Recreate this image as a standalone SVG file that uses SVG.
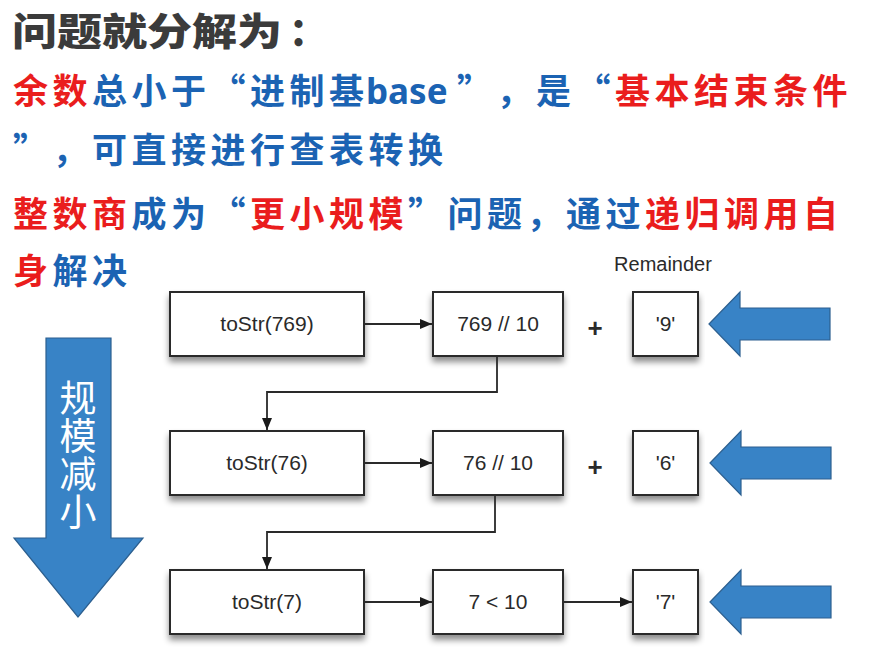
<svg xmlns="http://www.w3.org/2000/svg" width="872" height="653" viewBox="0 0 872 653">
<style>
.cjk{font-family:"Noto Sans CJK SC","Noto Sans",sans-serif}
.title{font-size:38px;font-weight:900;fill:#3b3b3b}
.body{font-size:35px;font-weight:700}
.r{fill:#ea1d1d}
.b{fill:#1b63b3}
.box{fill:#fff;stroke:#2a2a2a;stroke-width:2}
.lbl{font-family:"Liberation Sans",Arial,sans-serif;font-size:21px;fill:#2a2a2a;text-anchor:middle}
.conn{fill:none;stroke:#2a2a2a;stroke-width:1.8}
.blue{fill:#3883c6;stroke:#2c5f8f;stroke-width:1.2}
</style>
<defs>
<filter id="sh" x="-10%" y="-20%" width="120%" height="160%">
<feDropShadow dx="0" dy="5" stdDeviation="3" flood-color="#000" flood-opacity="0.45"/>
</filter>
<marker id="ah" viewBox="0 0 12 10" refX="12" refY="5" markerWidth="12" markerHeight="10" markerUnits="userSpaceOnUse" orient="auto">
<path d="M0,0 L12,5 L0,10 Z" fill="#1a1a1a"/>
</marker>
<path id="larrow" d="M0,0 L31,-32 L31,-16 L121,-16 L121,16 L31,16 L31,32 Z"/>
</defs>

<g id="title">
<text class="cjk title" x="12" y="45" textLength="270" lengthAdjust="spacingAndGlyphs">问题就分解为</text>
<text class="cjk title" x="289" y="45">：</text>
</g>

<g id="text-lines" class="cjk body">
<text y="104"><tspan class="r" x="13 52.5">余数</tspan><tspan class="b" x="92 131.5 171 210.5 250 289.5 329">总小于“进制基</tspan><tspan class="b" x="366" style="font-family:'Noto Sans',sans-serif;font-weight:700">base</tspan><tspan class="b" x="457 496.5 536 575.5">”，是“</tspan><tspan class="r" x="615 654.5 694 733.5 773 812.5">基本结束条件</tspan></text>
<text y="163"><tspan class="b" x="13 52.5 92 131.5 171 210.5 250 289.5 329 368.5 408">”，可直接进行查表转换</tspan></text>
<text y="227"><tspan class="r" x="13 52.5 92">整数商</tspan><tspan class="b" x="131.5 171 210.5">成为“</tspan><tspan class="r" x="250 289.5 329 368.5">更小规模</tspan><tspan class="b" x="408 447.5 487 526.5 566 605.5">”问题，通过</tspan><tspan class="r" x="645 684.5 724 763.5 803">递归调用自</tspan></text>
<text y="284"><tspan class="r" x="13">身</tspan><tspan class="b" x="52.5 92">解决</tspan></text>
</g>

<g id="scale-arrow">
<path class="blue" d="M46,338 L111,338 L111,538 L143,538 L78,617 L14,538 L46,538 Z"/>
<text class="cjk" x="78" y="379" style="font-size:37px;fill:#fff;writing-mode:vertical-rl;letter-spacing:1px">规模减小</text>
</g>

<g id="remainder-label">
<text class="lbl" x="663" y="271" style="font-size:20px">Remainder</text>
</g>

<g id="n-tostr769"><rect class="box" filter="url(#sh)" x="170" y="292" width="194" height="64"/><text class="lbl" x="267" y="331">toStr(769)</text></g>
<g id="n-769div10"><rect class="box" filter="url(#sh)" x="433" y="292" width="130" height="64"/><text class="lbl" x="498" y="331">769 // 10</text></g>
<g id="n-plus1"><text class="lbl" x="595" y="337" style="font-size:26px;font-weight:bold">+</text></g>
<g id="n-r9"><rect class="box" filter="url(#sh)" x="633" y="292" width="65" height="64"/><text class="lbl" x="665.5" y="331">'9'</text></g>

<g id="n-tostr76"><rect class="box" filter="url(#sh)" x="170" y="431" width="194" height="64"/><text class="lbl" x="267" y="470">toStr(76)</text></g>
<g id="n-76div10"><rect class="box" filter="url(#sh)" x="433" y="431" width="130" height="64"/><text class="lbl" x="498" y="470">76 // 10</text></g>
<g id="n-plus2"><text class="lbl" x="595" y="476" style="font-size:26px;font-weight:bold">+</text></g>
<g id="n-r6"><rect class="box" filter="url(#sh)" x="633" y="431" width="65" height="64"/><text class="lbl" x="665.5" y="470">'6'</text></g>

<g id="n-tostr7"><rect class="box" filter="url(#sh)" x="170" y="570" width="194" height="64"/><text class="lbl" x="267" y="609">toStr(7)</text></g>
<g id="n-7lt10"><rect class="box" filter="url(#sh)" x="433" y="570" width="130" height="64"/><text class="lbl" x="498" y="609">7 &lt; 10</text></g>
<g id="n-r7"><rect class="box" filter="url(#sh)" x="633" y="570" width="65" height="64"/><text class="lbl" x="665.5" y="609">'7'</text></g>

<g id="connectors">
<path class="conn" marker-end="url(#ah)" d="M365,324 L432,324"/>
<path class="conn" marker-end="url(#ah)" d="M365,463 L432,463"/>
<path class="conn" marker-end="url(#ah)" d="M365,602 L432,602"/>
<path class="conn" marker-end="url(#ah)" d="M564,602 L632,602"/>
<path class="conn" marker-end="url(#ah)" d="M497,357 L497,392 L267,392 L267,430"/>
<path class="conn" marker-end="url(#ah)" d="M495,496 L495,532 L267,532 L267,569"/>
</g>

<g id="remainder-arrows">
<use href="#larrow" class="blue" x="709" y="324"/>
<use href="#larrow" class="blue" x="710" y="463"/>
<use href="#larrow" class="blue" x="710" y="602"/>
</g>
</svg>
